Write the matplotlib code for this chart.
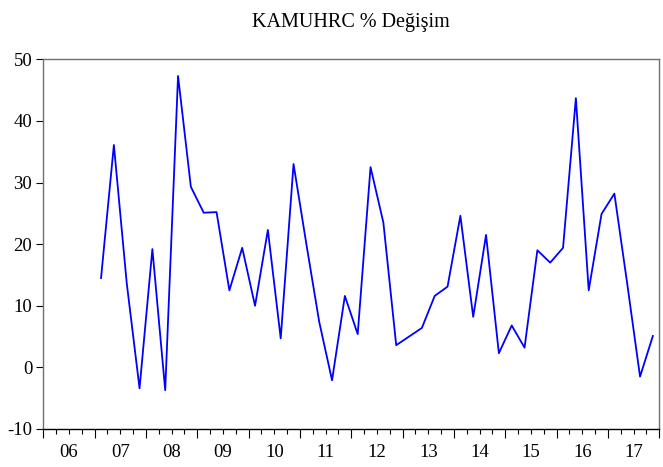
import numpy as np
import matplotlib
matplotlib.use("Agg")
import matplotlib.pyplot as plt

plt.rcParams['font.family'] = ['Liberation Serif', 'DejaVu Serif']
plt.rcParams['axes.unicode_minus'] = False

# quarterly % change, 2007Q1 .. 2017Q4
years = list(range(2007, 2018))
values = [
    14.5, 36.1, 13.7, -3.4,   # 2007
    19.2, -3.7, 47.3, 29.3,   # 2008
    25.1, 25.2, 12.5, 19.4,   # 2009
    10.0, 22.3, 4.7, 33.0,    # 2010
    20.0, 7.4, -2.1, 11.6,    # 2011
    5.4, 32.5, 23.5, 3.6,     # 2012
    5.0, 6.4, 11.6, 13.1,     # 2013
    24.6, 8.2, 21.5, 2.3,     # 2014
    6.8, 3.2, 19.0, 17.0,     # 2015
    19.4, 43.7, 12.5, 24.9,   # 2016
    28.2, 13.6, -1.5, 5.1,    # 2017
]
year_labels = ['06', '07', '08', '09', '10', '11', '12', '13', '14', '15', '16', '17']
yticks = [-10, 0, 10, 20, 30, 40, 50]

# mid-quarter positions
x = np.array([y + q / 4 + 0.125 for y in years for q in range(4)])

fig = plt.figure(figsize=(6.63, 4.67), dpi=100)
ax = fig.add_axes([0.0653, 0.0814, 0.9291, 0.7916])

ax.plot(x, values, color='#0000ff', lw=1.3)

ax.set_xlim(2006, 2018)
ax.set_ylim(-10, 50)

# year ticks long, quarter ticks short, labels at mid-year
ax.set_xticks(np.arange(2006, 2019), labels=[''] * 13)
minor = []
minor_lab = []
for i, y in enumerate(range(2006, 2018)):
    for q in (0.25, 0.5, 0.75):
        minor.append(y + q)
        minor_lab.append(year_labels[i] if q == 0.5 else '')
ax.set_xticks(minor, labels=minor_lab, minor=True)
ax.tick_params(axis='x', which='major', direction='out', length=6.5, width=0.8, color='black')
ax.tick_params(axis='x', which='minor', direction='out', length=3.5, width=0.8, color='black',
               pad=7.5, labelsize=13.5)

ax.set_yticks(yticks)
ax.tick_params(axis='y', direction='out', length=5, width=0.8, color='black', pad=3, labelsize=13.5)

for side in ('left', 'right', 'top'):
    ax.spines[side].set_color('#707070')
    ax.spines[side].set_linewidth(1.0)
ax.spines['bottom'].set_color('black')
ax.spines['bottom'].set_linewidth(1.0)

ax.set_title('KAMUHRC % Değişim', fontsize=14.5, pad=23.5)

fig.savefig('out.png', dpi=100)
